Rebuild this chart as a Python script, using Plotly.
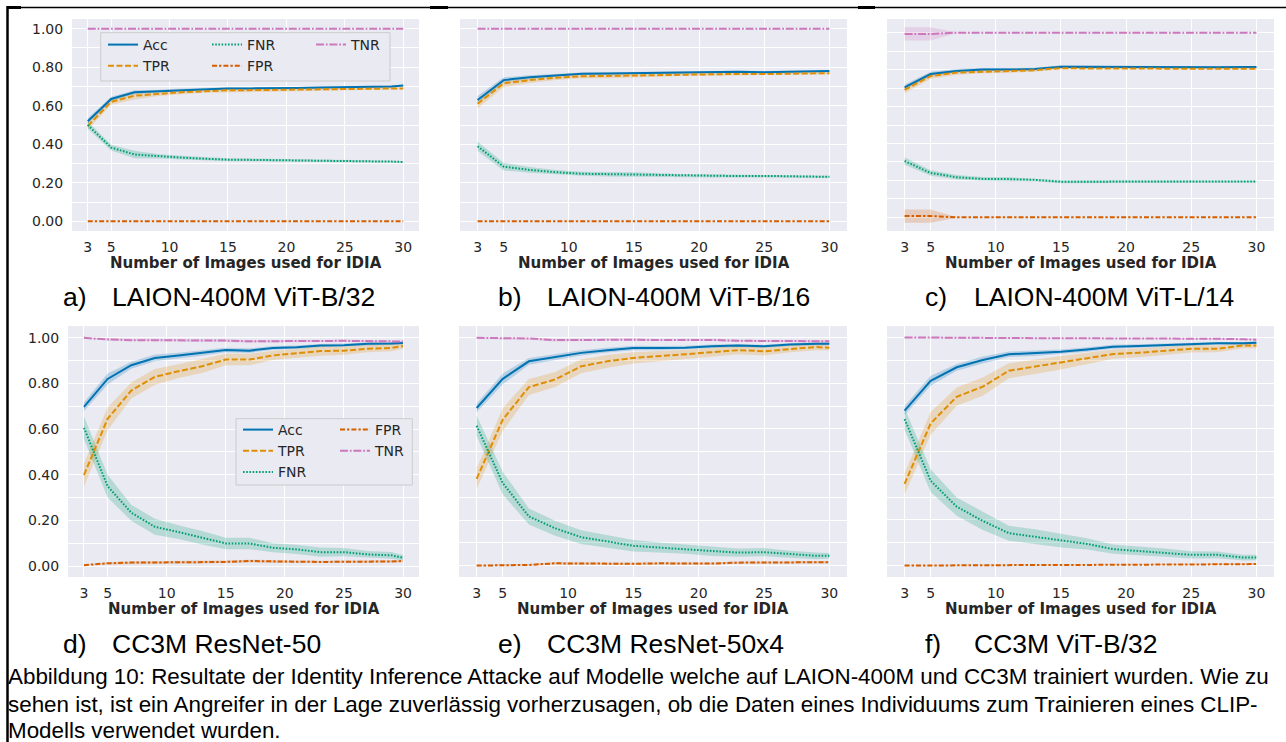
import plotly.graph_objects as go

# ---------------- data ----------------
X = [3, 5, 7, 9, 11, 13, 15, 17, 19, 21, 23, 25, 27, 29, 30]
X_TICKS = [3, 5, 10, 15, 20, 25, 30]
Y_TICKS = [0.0, 0.2, 0.4, 0.6, 0.8, 1.0]
Y_TICKTEXT = ["0.00", "0.20", "0.40", "0.60", "0.80", "1.00"]
METRICS = ["Acc", "TPR", "FNR", "FPR", "TNR"]
PANEL_LABELS = ["a)", "b)", "c)", "d)", "e)", "f)"]
PANEL_TITLES = ["LAION-400M ViT-B/32", "LAION-400M ViT-B/16", "LAION-400M ViT-L/14",
                "CC3M ResNet-50", "CC3M ResNet-50x4", "CC3M ViT-B/32"]
X_TITLE = "Number of Images used for IDIA"
CAPTION = [
    "Abbildung 10: Resultate der Identity Inference Attacke auf Modelle welche auf LAION-400M und CC3M trainiert wurden. Wie zu",
    "sehen ist, ist ein Angreifer in der Lage zuverlässig vorherzusagen, ob die Daten eines Individuums zum Trainieren eines CLIP-",
    "Modells verwendet wurden.",
]

# panel a: LAION-400M ViT-B/32
a_acc = [0.52, 0.635, 0.67, 0.675, 0.683, 0.687, 0.69, 0.69, 0.69, 0.692, 0.695, 0.697, 0.70, 0.70, 0.705]
a_tpr = [0.495, 0.62, 0.652, 0.662, 0.67, 0.675, 0.68, 0.681, 0.682, 0.683, 0.685, 0.686, 0.688, 0.689, 0.69]
a_fnr = [0.50, 0.383, 0.347, 0.338, 0.331, 0.325, 0.32, 0.319, 0.318, 0.317, 0.315, 0.313, 0.311, 0.31, 0.308]
a_fpr = [0.0, 0.0, 0.0, 0.0, 0.0, 0.0, 0.0, 0.0, 0.0, 0.0, 0.0, 0.0, 0.0, 0.0, 0.0]
a_tnr = [1.0, 1.0, 1.0, 1.0, 1.0, 1.0, 1.0, 1.0, 1.0, 1.0, 1.0, 1.0, 1.0, 1.0, 1.0]
a_acc_ci = [0.015, 0.012, 0.01, 0.008, 0.007, 0.006, 0.006, 0.005, 0.005, 0.005, 0.005, 0.005, 0.005, 0.005, 0.005]
a_tpr_ci = [0.02, 0.015, 0.02, 0.012, 0.01, 0.008, 0.008, 0.007, 0.007, 0.006, 0.006, 0.006, 0.006, 0.005, 0.005]
a_tnr_ci = [0.001, 0.001, 0.001, 0.001, 0.001, 0.001, 0.001, 0.001, 0.001, 0.001, 0.001, 0.001, 0.001, 0.001, 0.001]

# panel b: LAION-400M ViT-B/16
b_acc = [0.63, 0.733, 0.748, 0.758, 0.766, 0.767, 0.769, 0.771, 0.775, 0.776, 0.776, 0.774, 0.778, 0.779, 0.78]
b_tpr = [0.61, 0.716, 0.733, 0.745, 0.753, 0.755, 0.757, 0.76, 0.763, 0.764, 0.765, 0.764, 0.767, 0.768, 0.769]
b_fnr = [0.39, 0.284, 0.267, 0.255, 0.247, 0.245, 0.243, 0.24, 0.237, 0.236, 0.235, 0.236, 0.233, 0.232, 0.231]
b_fpr = [0.0, 0.0, 0.0, 0.0, 0.0, 0.0, 0.0, 0.0, 0.0, 0.0, 0.0, 0.0, 0.0, 0.0, 0.0]
b_tnr = [1.0, 1.0, 1.0, 1.0, 1.0, 1.0, 1.0, 1.0, 1.0, 1.0, 1.0, 1.0, 1.0, 1.0, 1.0]
b_acc_ci = [0.02, 0.015, 0.01, 0.008, 0.007, 0.007, 0.007, 0.007, 0.006, 0.006, 0.006, 0.006, 0.005, 0.005, 0.005]
b_tpr_ci = [0.025, 0.02, 0.015, 0.012, 0.01, 0.012, 0.012, 0.01, 0.008, 0.008, 0.007, 0.007, 0.006, 0.006, 0.006]
b_tnr_ci = [0.001, 0.001, 0.001, 0.001, 0.001, 0.001, 0.001, 0.001, 0.001, 0.001, 0.001, 0.001, 0.001, 0.001, 0.001]

# panel c: LAION-400M ViT-L/14
c_acc = [0.704, 0.776, 0.793, 0.80, 0.80, 0.803, 0.815, 0.814, 0.814, 0.814, 0.813, 0.813, 0.813, 0.814, 0.814]
c_tpr = [0.69, 0.765, 0.784, 0.79, 0.792, 0.797, 0.808, 0.806, 0.805, 0.805, 0.805, 0.805, 0.805, 0.805, 0.805]
c_fnr = [0.305, 0.24, 0.217, 0.208, 0.207, 0.203, 0.193, 0.194, 0.195, 0.195, 0.195, 0.194, 0.194, 0.194, 0.194]
c_fpr = [0.007, 0.007, 0.0, 0.0, 0.0, 0.0, 0.0, 0.0, 0.0, 0.0, 0.0, 0.0, 0.0, 0.0, 0.0]
c_tnr = [0.993, 0.993, 1.0, 1.0, 1.0, 1.0, 1.0, 1.0, 1.0, 1.0, 1.0, 1.0, 1.0, 1.0, 1.0]
c_acc_ci = [0.015, 0.012, 0.01, 0.008, 0.008, 0.007, 0.008, 0.007, 0.006, 0.006, 0.006, 0.006, 0.006, 0.006, 0.006]
c_tpr_ci = [0.02, 0.015, 0.012, 0.01, 0.01, 0.008, 0.008, 0.008, 0.007, 0.007, 0.007, 0.006, 0.006, 0.006, 0.006]
c_tnr_ci = [0.036, 0.036, 0.002, 0.001, 0.001, 0.001, 0.001, 0.001, 0.001, 0.001, 0.001, 0.001, 0.001, 0.001, 0.001]

# panel d: CC3M ResNet-50
d_acc = [0.698, 0.82, 0.88, 0.912, 0.923, 0.934, 0.947, 0.944, 0.956, 0.959, 0.966, 0.968, 0.974, 0.975, 0.977]
d_tpr = [0.399, 0.645, 0.769, 0.829, 0.854, 0.876, 0.905, 0.905, 0.923, 0.931, 0.942, 0.944, 0.952, 0.956, 0.964]
d_fnr = [0.606, 0.35, 0.234, 0.172, 0.149, 0.124, 0.099, 0.099, 0.08, 0.073, 0.061, 0.061, 0.051, 0.047, 0.036]
d_fpr = [0.004, 0.012, 0.015, 0.015, 0.016, 0.017, 0.018, 0.022, 0.019, 0.019, 0.018, 0.018, 0.019, 0.02, 0.022]
d_tnr = [1.0, 0.993, 0.99, 0.99, 0.99, 0.989, 0.988, 0.985, 0.986, 0.986, 0.987, 0.987, 0.986, 0.985, 0.984]
d_acc_ci = [0.02, 0.024, 0.015, 0.015, 0.012, 0.012, 0.01, 0.01, 0.008, 0.008, 0.007, 0.007, 0.006, 0.006, 0.006]
d_tpr_ci = [0.05, 0.05, 0.035, 0.035, 0.03, 0.03, 0.025, 0.025, 0.02, 0.02, 0.02, 0.018, 0.015, 0.015, 0.012]
d_tnr_ci = [0.002, 0.005, 0.006, 0.006, 0.006, 0.006, 0.006, 0.006, 0.006, 0.005, 0.005, 0.005, 0.005, 0.005, 0.005]

# panel e: CC3M ResNet-50x4
e_acc = [0.692, 0.82, 0.897, 0.915, 0.934, 0.946, 0.955, 0.955, 0.957, 0.963, 0.966, 0.963, 0.971, 0.974, 0.974]
e_tpr = [0.381, 0.641, 0.784, 0.817, 0.875, 0.897, 0.912, 0.919, 0.928, 0.937, 0.946, 0.941, 0.952, 0.96, 0.956]
e_fnr = [0.614, 0.362, 0.216, 0.164, 0.125, 0.106, 0.087, 0.079, 0.072, 0.062, 0.057, 0.059, 0.05, 0.043, 0.043]
e_fpr = [0.0, 0.003, 0.003, 0.01, 0.009, 0.008, 0.008, 0.01, 0.009, 0.009, 0.013, 0.013, 0.013, 0.014, 0.015]
e_tnr = [1.0, 0.997, 0.997, 0.99, 0.991, 0.992, 0.992, 0.99, 0.991, 0.991, 0.987, 0.987, 0.987, 0.986, 0.985]
e_acc_ci = [0.02, 0.024, 0.015, 0.013, 0.012, 0.01, 0.01, 0.009, 0.008, 0.008, 0.007, 0.007, 0.006, 0.006, 0.006]
e_tpr_ci = [0.045, 0.05, 0.035, 0.033, 0.03, 0.028, 0.025, 0.022, 0.02, 0.02, 0.018, 0.018, 0.015, 0.015, 0.012]
e_tnr_ci = [0.002, 0.004, 0.004, 0.006, 0.006, 0.005, 0.005, 0.005, 0.005, 0.005, 0.005, 0.005, 0.005, 0.005, 0.005]

# panel f: CC3M ViT-B/32
f_acc = [0.679, 0.81, 0.869, 0.901, 0.926, 0.93, 0.937, 0.947, 0.959, 0.962, 0.966, 0.971, 0.974, 0.974, 0.977]
f_tpr = [0.358, 0.623, 0.74, 0.784, 0.854, 0.872, 0.889, 0.908, 0.927, 0.933, 0.942, 0.95, 0.95, 0.965, 0.965]
f_fnr = [0.642, 0.372, 0.258, 0.196, 0.142, 0.127, 0.109, 0.095, 0.072, 0.064, 0.057, 0.047, 0.047, 0.035, 0.035]
f_fpr = [0.0, 0.001, 0.002, 0.002, 0.002, 0.003, 0.003, 0.003, 0.003, 0.003, 0.004, 0.004, 0.005, 0.006, 0.007]
f_tnr = [1.0, 0.999, 0.997, 0.997, 0.996, 0.996, 0.996, 0.996, 0.996, 0.996, 0.995, 0.995, 0.994, 0.992, 0.99]
f_acc_ci = [0.02, 0.022, 0.015, 0.015, 0.012, 0.011, 0.01, 0.01, 0.009, 0.008, 0.007, 0.007, 0.006, 0.006, 0.006]
f_tpr_ci = [0.047, 0.05, 0.04, 0.04, 0.033, 0.032, 0.03, 0.025, 0.02, 0.02, 0.018, 0.016, 0.015, 0.013, 0.012]
f_tnr_ci = [0.002, 0.003, 0.003, 0.003, 0.003, 0.003, 0.003, 0.003, 0.003, 0.003, 0.003, 0.003, 0.003, 0.003, 0.004]

PANEL_DATA = [
    (a_acc, a_tpr, a_fnr, a_fpr, a_tnr, a_acc_ci, a_tpr_ci, a_tnr_ci),
    (b_acc, b_tpr, b_fnr, b_fpr, b_tnr, b_acc_ci, b_tpr_ci, b_tnr_ci),
    (c_acc, c_tpr, c_fnr, c_fpr, c_tnr, c_acc_ci, c_tpr_ci, c_tnr_ci),
    (d_acc, d_tpr, d_fnr, d_fpr, d_tnr, d_acc_ci, d_tpr_ci, d_tnr_ci),
    (e_acc, e_tpr, e_fnr, e_fpr, e_tnr, e_acc_ci, e_tpr_ci, e_tnr_ci),
    (f_acc, f_tpr, f_fnr, f_fpr, f_tnr, f_acc_ci, f_tpr_ci, f_tnr_ci),
]

# ---------------- style / layout ----------------
W, H = 1286, 742
COLORS = {"Acc": "#0173b2", "TPR": "#de8f05", "FNR": "#029e73", "FPR": "#d55e00", "TNR": "#cc78bc"}
DASHES = {"Acc": "solid", "TPR": "6px,2.5px", "FNR": "1.6px,1.6px",
          "FPR": "5px,2px,2.4px,2px", "TNR": "8px,1.8px,1.8px,1.8px"}
BG = "#eaeaf2"
TXT = "#262626"
TICKFONT = dict(family="DejaVu Sans", size=14, color=TXT)
DOC_FONT = "Liberation Sans, Arial, sans-serif"

# pixel boxes of each plotting area: (x0, x1, y0_top, y1_bottom), y ranges
BOXES = [(72, 419, 19, 231), (460, 847, 19, 231), (887, 1274, 19, 231),
         (68, 419, 326, 577), (459, 847, 326, 577), (887, 1274, 326, 577)]
YRANGES = [(-0.05, 1.05), (-0.05, 1.05), (-0.074, 1.074),
           (-0.048, 1.052), (-0.05, 1.052), (-0.05, 1.05)]
# legend assignment: panel index -> {metric: legend id}
LEGENDS = {0: {"Acc": "legend", "TPR": "legend", "FNR": "legend2", "FPR": "legend2", "TNR": "legend3"},
           3: {"Acc": "legend4", "TPR": "legend4", "FNR": "legend4", "FPR": "legend5", "TNR": "legend5"}}


def pxx(x):
    return x / W


def pxy(y):
    return 1 - y / H


def rgba(hexc, a):
    h = hexc.lstrip("#")
    return f"rgba({int(h[0:2], 16)},{int(h[2:4], 16)},{int(h[4:6], 16)},{a})"


fig = go.Figure()

for i, data in enumerate(PANEL_DATA):
    acc, tpr, fnr, fpr, tnr, acc_ci, tpr_ci, tnr_ci = data
    series = {"Acc": (acc, acc_ci), "TPR": (tpr, tpr_ci), "FNR": (fnr, tpr_ci),
              "FPR": (fpr, tnr_ci), "TNR": (tnr, tnr_ci)}
    xa = "x" if i == 0 else f"x{i + 1}"
    ya = "y" if i == 0 else f"y{i + 1}"
    # confidence bands
    for m in METRICS:
        vals, ci = series[m]
        lo = [v - c for v, c in zip(vals, ci)]
        hi = [v + c for v, c in zip(vals, ci)]
        fig.add_trace(go.Scatter(
            x=X + X[::-1], y=hi + lo[::-1], fill="toself", fillcolor=rgba(COLORS[m], 0.22),
            line=dict(width=0, color=rgba(COLORS[m], 0)), mode="lines", hoverinfo="skip",
            showlegend=False, xaxis=xa, yaxis=ya))
    # mean lines
    for m in METRICS:
        vals, _ = series[m]
        leg = LEGENDS.get(i, {}).get(m)
        kw = dict(showlegend=leg is not None)
        if leg is not None:
            kw["legend"] = leg
            kw["legendgroup"] = f"p{i}{m}"
        fig.add_trace(go.Scatter(
            x=X, y=vals, mode="lines", name=m,
            line=dict(color=COLORS[m], width=2, dash=DASHES[m]),
            xaxis=xa, yaxis=ya, **kw))

    x0, x1, y0, y1 = BOXES[i]
    k = "" if i == 0 else str(i + 1)
    fig.layout["xaxis" + k] = dict(
        domain=[pxx(x0), pxx(x1)], range=[1.65, 31.35], anchor=ya,
        tickvals=X_TICKS, showgrid=True, gridcolor="white", gridwidth=1.3,
        zeroline=False, showline=False, tickfont=TICKFONT,
        ticks="outside", ticklen=3, tickcolor="rgba(0,0,0,0)")
    fig.layout["yaxis" + k] = dict(
        domain=[pxy(y1), pxy(y0)], range=list(YRANGES[i]), anchor=xa,
        tickvals=Y_TICKS, ticktext=Y_TICKTEXT, showticklabels=(i in (0, 3)),
        showgrid=True, gridcolor="white", gridwidth=1.3, zeroline=False, showline=False,
        tickfont=TICKFONT, ticks="outside", ticklen=5, tickcolor="rgba(0,0,0,0)",
        minor=dict(tickvals=[0.1, 0.3, 0.5, 0.7, 0.9], showgrid=True,
                   gridcolor="white", gridwidth=1.3))

annotations = []
# x-axis titles
for i, (x0, x1, y0, y1) in enumerate(BOXES):
    annotations.append(dict(
        x=pxx((x0 + x1) / 2), y=pxy(y1 + 32), xref="paper", yref="paper",
        text=X_TITLE, showarrow=False, xanchor="center", yanchor="middle",
        font=dict(family="DejaVu Sans", size=15, color=TXT, weight="bold")))

# panel captions (a) ... f))
LABEL_POS = [(61, 297), (496, 297), (923, 297), (61, 644), (496, 644), (923, 644)]
for (lx, ly), lab, title in zip(LABEL_POS, PANEL_LABELS, PANEL_TITLES):
    annotations.append(dict(x=pxx(lx), y=pxy(ly), xref="paper", yref="paper", text=lab,
                            showarrow=False, xanchor="left", yanchor="middle",
                            font=dict(family=DOC_FONT, size=26.5, color="black")))
    annotations.append(dict(x=pxx(lx + 49), y=pxy(ly), xref="paper", yref="paper", text=title,
                            showarrow=False, xanchor="left", yanchor="middle",
                            font=dict(family=DOC_FONT, size=26.5, color="black")))

# figure caption
for line, cy in zip(CAPTION, [676, 704, 730]):
    annotations.append(dict(x=pxx(6), y=pxy(cy), xref="paper", yref="paper", text=line,
                            showarrow=False, xanchor="left", yanchor="middle",
                            font=dict(family=DOC_FONT, size=22.4, color="black")))

shapes = []
# legend frames
for (bx0, bx1, by0, by1) in [(100.7, 390, 32.7, 81), (236, 412.3, 418.7, 485)]:
    shapes.append(dict(type="rect", xref="paper", yref="paper",
                       x0=pxx(bx0), x1=pxx(bx1), y0=pxy(by1), y1=pxy(by0),
                       line=dict(color="#cccccc", width=1), fillcolor=BG, layer="above"))
# document table borders
shapes.append(dict(type="line", xref="paper", yref="paper", x0=pxx(7.5), x1=pxx(7.5),
                   y0=pxy(6), y1=0, line=dict(color="black", width=2.5)))
shapes.append(dict(type="line", xref="paper", yref="paper", x0=pxx(7), x1=1,
                   y0=pxy(7.5), y1=pxy(7.5), line=dict(color="black", width=1.3)))
for sx0, sx1 in [(7, 21), (430, 448), (858, 875)]:
    shapes.append(dict(type="line", xref="paper", yref="paper", x0=pxx(sx0), x1=pxx(sx1),
                       y0=pxy(7.5), y1=pxy(7.5), line=dict(color="black", width=3)))

legend_common = dict(bgcolor="rgba(0,0,0,0)", borderwidth=0, xanchor="left", yanchor="top",
                     font=dict(family="DejaVu Sans", size=14, color=TXT),
                     orientation="v", tracegroupgap=0, itemclick=False, itemdoubleclick=False)
LEG_POS = {"legend": (103, 29), "legend2": (207, 29), "legend3": (311, 29),
           "legend4": (238, 414), "legend5": (335, 414)}
legend_layout = {}
for name, (lx, ly) in LEG_POS.items():
    legend_layout[name] = dict(x=pxx(lx), y=pxy(ly), **legend_common)

fig.update_layout(
    width=W, height=H, autosize=False,
    margin=dict(l=0, r=0, t=0, b=0),
    paper_bgcolor="white", plot_bgcolor=BG,
    annotations=annotations, shapes=shapes,
    **legend_layout,
)

fig.write_html("out.html", config={"displayModeBar": False},
               post_script="document.body.style.margin='0';document.body.style.padding='0';")
